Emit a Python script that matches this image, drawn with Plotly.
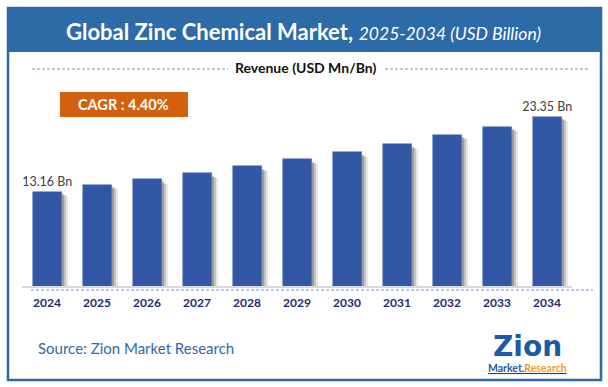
import plotly.graph_objects as go

years = ["2024", "2025", "2026", "2027", "2028", "2029", "2030", "2031", "2032", "2033", "2034"]
revenue = [13.16, 14.11, 14.89, 15.70, 16.65, 17.60, 18.55, 19.64, 20.90, 21.99, 23.35]
title_main = "Global Zinc Chemical Market,"
title_sub = "2025-2034 (USD Billion)"
legend_label = "Revenue (USD Mn/Bn)"
cagr_label = "CAGR : 4.40%"
source_label = "Source: Zion Market Research"

W, H = 608, 387
L, R, T, B = 22, 36, 100, 101
PW, PH = W - L - R, H - T - B
BOTTOM = H - B


def px(x):
    return (x - L) / PW


def py(y):
    return (BOTTOM - y) / PH


FONT = "Lato"
BLUE = "#2c6aa8"
BAR = "#3257a5"
NAVY = "#1f2a6b"

labels = [f"{v:.2f} Bn" if i in (0, len(revenue) - 1) else "" for i, v in enumerate(revenue)]

fig = go.Figure()
# soft shadow layers
for off, alpha, drop in [(0.13, 0.12, 0.6), (0.09, 0.2, 0.45), (0.05, 0.28, 0.3)]:
    fig.add_trace(go.Bar(
        x=years, y=[v - drop for v in revenue], width=0.58, offset=-0.29 + off,
        marker=dict(color=f"rgba(60,60,60,{alpha})", line=dict(width=0)),
        hoverinfo="skip", showlegend=False,
    ))
fig.add_trace(go.Bar(
    x=years, y=revenue, width=0.58, offset=-0.29,
    marker=dict(color=BAR, line=dict(color="#5a7cc0", width=0.6)),
    text=labels, textposition="outside", cliponaxis=False, constraintext="none",
    textfont=dict(family=FONT, size=12.5, color="#404040"),
    showlegend=False,
))

shapes = [
    # outer frame
    dict(type="rect", xref="paper", yref="paper", x0=px(8), x1=px(601), y0=py(380), y1=py(8),
         line=dict(color=BLUE, width=2.5), fillcolor="rgba(0,0,0,0)", layer="above"),
    # title band
    dict(type="rect", xref="paper", yref="paper", x0=px(8), x1=px(601), y0=py(52), y1=py(8),
         line=dict(width=0), fillcolor=BLUE, layer="below"),
    # legend dashed lines
    dict(type="line", xref="paper", yref="paper", x0=px(32), x1=px(228), y0=py(69), y1=py(69),
         line=dict(color="#6f98d4", width=1, dash="3px,2px")),
    dict(type="line", xref="paper", yref="paper", x0=px(385), x1=px(590), y0=py(69), y1=py(69),
         line=dict(color="#6f98d4", width=1, dash="3px,2px")),
    # bottom dashed line
    dict(type="line", xref="paper", yref="paper", x0=px(31), x1=px(593), y0=py(290), y1=py(290),
         line=dict(color="#6f98d4", width=1, dash="3px,2px")),
    # CAGR box
    dict(type="rect", xref="paper", yref="paper", x0=px(60), x1=px(188), y0=py(117), y1=py(92),
         line=dict(width=0), fillcolor="#d2600f"),
]

annotations = [
    dict(text=f"<b>{title_main}</b> <i><span style='font-size:17.5px'>{title_sub}</span></i>",
         x=px(303), y=py(31), xref="paper", yref="paper", showarrow=False,
         font=dict(family=FONT, size=22, color="white"), xanchor="center", yanchor="middle"),
    dict(text=f"<b>{legend_label}</b>", x=px(305), y=py(68), xref="paper", yref="paper",
         showarrow=False, font=dict(family=FONT, size=14, color="#111111"),
         xanchor="center", yanchor="middle"),
    dict(text=f"<b>{cagr_label}</b>", x=px(123), y=py(104.5), xref="paper", yref="paper",
         showarrow=False, font=dict(family=FONT, size=14.5, color="white"),
         xanchor="center", yanchor="middle"),
    dict(text=source_label, x=px(36), y=py(348), xref="paper", yref="paper",
         showarrow=False, font=dict(family=FONT, size=15, color="#2e6aa6"),
         xanchor="left", yanchor="middle"),
    dict(text="<b>Zion</b>", x=px(527), y=py(346), xref="paper", yref="paper",
         showarrow=False, font=dict(family="DejaVu Sans", size=28, color="#1a5aa6"),
         xanchor="center", yanchor="middle"),
    dict(text="<b><u><span style='color:#1a5aa6'>Market.</span><span style='color:#f39a1e'>Research</span></u></b>",
         x=px(527), y=py(368), xref="paper", yref="paper",
         showarrow=False, font=dict(family=FONT, size=10.5),
         xanchor="center", yanchor="middle"),
]

fig.update_layout(
    width=W, height=H, margin=dict(l=L, r=R, t=T, b=B, autoexpand=False),
    paper_bgcolor="white", plot_bgcolor="white",
    barmode="overlay", bargap=0,
    shapes=shapes, annotations=annotations,
    xaxis=dict(type="category", range=[-0.5, 10.5], showline=True, linecolor="#d9d9d9",
               linewidth=1.5, showgrid=False, ticks="", ticklabelstandoff=5,
               tickfont=dict(family=FONT, size=12, color=NAVY, weight="bold"), fixedrange=True),
    yaxis=dict(range=[0.39, 0.39 + PH / 7.36], visible=False, showgrid=False, fixedrange=True),
)

fig.write_html(
    "out.html",
    config={"displayModeBar": False},
    post_script="document.body.style.margin='0';document.body.style.overflow='hidden';",
)
